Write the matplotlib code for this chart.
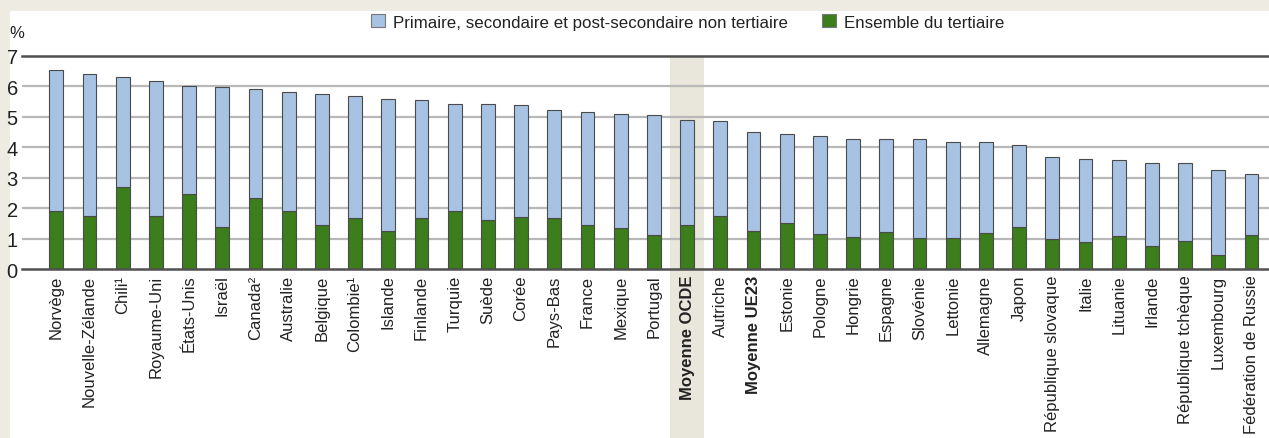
import numpy as np
import matplotlib.pyplot as plt
from matplotlib.patches import Rectangle
from matplotlib.transforms import blended_transform_factory

plt.rcParams['font.family'] = ['Liberation Sans Narrow', 'Liberation Sans', 'DejaVu Sans']

countries = ["Norvège", "Nouvelle-Zélande", "Chili¹", "Royaume-Uni", "États-Unis", "Israël",
             "Canada²", "Australie", "Belgique", "Colombie¹", "Islande", "Finlande", "Turquie",
             "Suède", "Corée", "Pays-Bas", "France", "Mexique", "Portugal", "Moyenne OCDE",
             "Autriche", "Moyenne UE23", "Estonie", "Pologne", "Hongrie", "Espagne", "Slovénie",
             "Lettonie", "Allemagne", "Japon", "République slovaque", "Italie", "Lituanie",
             "Irlande", "République tchèque", "Luxembourg", "Fédération de Russie"]

# total expenditure (% of GDP) and the tertiary share of it
total = [6.53, 6.42, 6.31, 6.18, 6.02, 5.98, 5.91, 5.82, 5.76, 5.70, 5.60, 5.57, 5.43,
         5.41, 5.40, 5.24, 5.16, 5.08, 5.05, 4.91, 4.88, 4.50, 4.45, 4.37, 4.28, 4.28, 4.26,
         4.17, 4.17, 4.06, 3.68, 3.60, 3.59, 3.48, 3.48, 3.24, 3.11]
tertiary = [1.92, 1.73, 2.69, 1.73, 2.45, 1.39, 2.34, 1.92, 1.46, 1.66, 1.26, 1.66, 1.90,
            1.61, 1.72, 1.68, 1.43, 1.35, 1.13, 1.45, 1.73, 1.24, 1.50, 1.15, 1.06, 1.21, 1.02,
            1.02, 1.19, 1.37, 0.99, 0.88, 1.08, 0.77, 0.93, 0.46, 1.13]

total = np.array(total)
tertiary = np.array(tertiary)
non_tertiary = total - tertiary
x = np.arange(len(countries))

W, H = 1269, 439
fig = plt.figure(figsize=(W / 100, H / 100), dpi=100)
fig.patch.set_facecolor('#eeebe2')
fig.patches.append(Rectangle((10 / W, 0), 1, 1 - 12 / H, transform=fig.transFigure,
                             facecolor='white', edgecolor='none', zorder=-2))

ax = fig.add_axes([22 / W, (H - 270) / H, (W - 22) / W, (270 - 57) / H])
ax.patch.set_visible(False)

blue = '#a7c2e3'
green = '#3c7d1c'
edge = '#4a4a4a'
ax.bar(x, tertiary, width=0.42, color=green, edgecolor=edge, linewidth=0.8, zorder=3)
ax.bar(x, non_tertiary, bottom=tertiary, width=0.42, color=blue, edgecolor=edge,
       linewidth=0.8, zorder=3)

ax.set_xlim((22 - 56.3) / 33.2, (W - 56.3) / 33.2)
ax.set_ylim(0, 7)

# shaded column behind the OECD average, running down through the labels
oecd = countries.index("Moyenne OCDE")
tr = blended_transform_factory(ax.transData, fig.transFigure)
fig.patches.append(Rectangle((oecd - 0.53, 0), 1.03, 1 - 58 / H, transform=tr,
                             facecolor='#e9e6dc', edgecolor='none', zorder=-1))

for y in range(1, 7):
    ax.axhline(y, color='#b8b8b8', linewidth=1.6, zorder=1)
ax.axhline(7, color='#505050', linewidth=1.8, zorder=1, clip_on=False)
ax.axhline(0, color='#505050', linewidth=1.8, zorder=4, clip_on=False)

for s in ax.spines.values():
    s.set_visible(False)

ax.set_yticks(range(0, 8))
ax.tick_params(axis='y', length=0, pad=3, labelsize=14.5, labelcolor='#222222')
ax.set_xticks(x)
ax.set_xticklabels(countries, rotation=90, fontsize=12, color='#222222')
ax.tick_params(axis='x', length=0, pad=4)
for lbl in ax.get_xticklabels():
    if lbl.get_text().startswith("Moyenne"):
        lbl.set_fontweight('bold')

fig.text(9 / W, 1 - 33 / H, '%', fontsize=12, color='#222222', va='center', ha='left')

handles = [Rectangle((0, 0), 1, 1, facecolor=blue, edgecolor='#777777', linewidth=0.8),
           Rectangle((0, 0), 1, 1, facecolor=green, edgecolor='#777777', linewidth=0.8)]
fig.legend(handles, ["Primaire, secondaire et post-secondaire non tertiaire",
                     "Ensemble du tertiaire"],
           loc='center', bbox_to_anchor=(688 / W, 1 - 23 / H), ncol=2, frameon=False,
           fontsize=12.2, handlelength=0.8, handleheight=0.8, handletextpad=0.5,
           columnspacing=2.0, labelcolor='#222222')

fig.savefig('out.png', dpi=100, facecolor=fig.get_facecolor())
